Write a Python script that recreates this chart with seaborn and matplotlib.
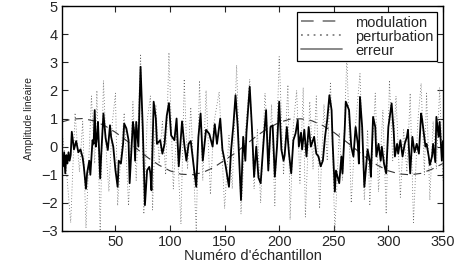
import numpy as np
import pandas as pd
import matplotlib
matplotlib.use('Agg')
import matplotlib.pyplot as plt
import seaborn as sns

# Valeurs
# --------------------------
# modulation (lente), un point tous les 10 echantillons
mod_x = [1, 10, 20, 30, 40, 50, 60, 70, 80, 90, 100, 110, 120, 130, 140, 150, 160, 170,
         180, 190, 200, 210, 220, 230, 240, 250, 260, 270, 280, 290, 300, 310, 320, 330, 340, 350]
mod_y = [0.88, 0.98, 1.0, 0.92, 0.75, 0.51, 0.22, -0.09, -0.4, -0.66, -0.86, -0.98, -1.0, -0.92,
         -0.74, -0.48, -0.22, 0.09, 0.4, 0.66, 0.86, 0.98, 0.99, 0.92, 0.75, 0.51, 0.22, -0.09,
         -0.4, -0.66, -0.86, -0.97, -1.0, -0.95, -0.8, -0.6]

# perturbation (pointilles)
pert_x = [1, 5, 9, 13, 17, 20, 23, 28, 31, 33, 36, 39, 42, 44, 47, 50, 52, 55, 58, 62, 66, 69,
          73, 76, 79, 82, 84, 87, 90, 93, 96, 99, 103, 106, 110, 113, 116, 119, 124, 127, 130,
          133, 137, 140, 145, 150, 154, 157, 161, 165, 169, 173, 177, 180, 183, 187, 191, 193,
          196, 200, 204, 208, 210, 213, 216, 219, 222, 224, 228, 231, 234, 237, 241, 244, 247,
          251, 255, 258, 262, 266, 270, 274, 278, 281, 283, 288, 291, 295, 298, 301, 304, 307,
          311, 314, 317, 320, 323, 327, 330, 333, 335, 338, 341, 344, 347, 350]
pert_y = [0.6, -0.8, -2.7, 1.2, -0.9, 0.9, -2.9, 1.8, -0.6, 2.0, -3.0, 2.35, -0.5, -1.6, 0.8,
          1.9, -2.1, -0.3, 1.2, -2.1, 1.6, -1.2, 3.3, -2.4, 0.9, 1.8, -2.25, 1.5, -0.6, 0.9,
          -1.0, 3.35, -1.5, 0.5, -2.75, 2.4, -0.8, 1.4, -3.0, 2.35, -1.2, 2.0, -1.7, 0.8, 1.95,
          -2.2, 0.4, -1.5, 2.9, -2.4, 0.5, 2.4, -1.5, 0.6, -2.0, 1.9, -0.6, 1.5, -2.1, 3.2,
          -1.0, 2.2, -2.6, 0.8, 2.0, -1.3, 2.1, -2.5, 1.6, -0.8, 1.8, -2.2, 1.5, -0.5, 2.3,
          -3.0, 0.5, -1.2, 3.2, -2.0, 0.8, 2.6, -1.9, 0.6, -2.1, 1.9, -1.6, 1.3, -2.4, 2.36,
          -0.5, 1.8, -1.8, 0.6, -0.9, 1.9, -2.7, 0.9, 2.25, -1.0, 1.9, -1.9, 0.9, -0.8, 2.1, -1.2]

# erreur (trait plein)
err_x = [1, 2, 3, 4, 5, 6, 7, 8, 9, 10, 12, 14, 16, 18, 20, 21, 23, 24, 26, 27, 29, 30, 31, 32,
         33, 34, 36, 37, 39, 41, 43, 45, 46, 48, 50, 52, 53, 55, 57, 58, 60, 62, 63, 66, 67, 68,
         69, 71, 73, 75, 77, 79, 81, 82, 83, 85, 87, 88, 91, 93, 95, 97, 99, 101, 104, 106,
         108, 111, 113, 115, 117, 119, 122, 124, 126, 128, 130, 133, 136, 139, 141, 143, 146,
         148, 151, 154, 156, 158, 160, 162, 165, 167, 169, 170, 173, 175, 177, 179, 181, 183,
         186, 188, 190, 192, 194, 196, 198, 200, 202, 204, 205, 207, 209, 211, 213, 215, 217,
         218, 220, 221, 223, 225, 227, 229, 232, 234, 236, 238, 240, 242, 244, 246, 248, 249,
         251, 252, 255, 257, 258, 260, 261, 264, 266, 268, 270, 272, 273, 274, 276, 278, 281,
         283, 284, 286, 288, 289, 291, 293, 294, 296, 298, 300, 303, 305, 306, 308, 309, 311,
         313, 315, 317, 318, 320, 322, 324, 326, 328, 330, 331, 334, 335, 337, 338, 340, 341,
         343, 344, 346, 347, 349, 350]
err_y = [-0.25, -0.7, -0.2, -0.95, -0.3, -0.6, -0.2, -0.5, -0.3, 0.53, -0.1, 0.2, -0.2, -0.1,
         -0.4, -0.7, -1.5, -0.95, -0.5, -1.0, 0.23, 0.1, 1.3, 0.0, 0.3, 0.88, -1.13, -0.25, 1.18,
         0.3, -0.12, 0.76, 0.35, 0.0, -0.84, -1.43, -0.5, -0.6, 0.1, 0.82, 0.65, 0.23, -1.3,
         0.88, 0.6, -0.5, 0.88, 0.0, 2.84, 0.7, -2.08, -0.84, -0.72, -0.95, -1.55, 1.6, 1.0, 0.1,
         0.23, -0.25, 0.1, 1.1, 1.55, 0.4, 0.23, 1.0, -0.7, 0.9, 0.1, -0.5, 0.1, 0.2, -0.8,
         -1.43, 0.35, 1.18, -0.5, 0.6, 0.45, 0.0, 0.8, 0.1, 1.0, -0.1, -0.7, -1.43, -0.1, 0.75,
         1.83, 0.7, -1.9, 0.35, -0.5, 0.5, 2.13, 0.7, -1.07, 0.0, -1.1, -1.3, 0.35, 1.3, -0.85,
         0.7, 0.75, -1.07, 0.0, 1.6, -0.1, -0.5, -0.3, 0.7, -0.25, -0.95, 0.23, 0.47, 0.95, 0.0,
         0.5, -0.1, 0.6, -0.35, 0.7, 0.0, 0.35, -0.25, -0.35, -0.7, -0.5, 0.35, 0.95, 1.83, 1.3,
         0.1, -1.6, -0.85, -1.3, -0.35, -0.95, 0.6, 1.6, 1.3, 0.0, -0.35, 0.7, 0.1, -0.6, 1.77,
         0.7, -1.43, -0.1, -0.5, -1.07, 1.06, 0.7, -0.35, 0.1, -0.5, 0.0, -0.6, -0.95, 0.7, 1.54,
         0.47, -0.35, 0.1, -0.25, 0.23, -0.35, 0.1, 0.35, 0.6, -0.95, 0.35, -0.2, 0.1, -0.25,
         1.18, 0.95, 0.0, 0.1, -0.35, -0.65, -0.35, 0.1, -0.55, 1.06, 0.35, 0.88, -0.5, 0.2]

x_ticks = [50, 100, 150, 200, 250, 300, 350]
y_ticks = [-3, -2, -1, 0, 1, 2, 3, 4, 5]

# Style
sns.set_style('ticks')
plt.rcParams['font.family'] = ['Liberation Sans', 'DejaVu Sans']
plt.rcParams['xtick.direction'] = 'in'
plt.rcParams['ytick.direction'] = 'in'

fig = plt.figure(figsize=(4.59, 2.64), dpi=100)
ax = fig.add_axes([0.135, 0.125, 0.83, 0.852])

# Tracés
sns.lineplot(x=mod_x, y=mod_y, ax=ax, color='0.2', lw=0.8,
             linestyle=(0, (7, 5)), label='modulation', sort=False, estimator=None)
sns.lineplot(x=pert_x, y=pert_y, ax=ax, color='0.4', lw=0.6,
             linestyle=(0, (1, 2.5)), label='perturbation', sort=False, estimator=None)
sns.lineplot(x=err_x, y=err_y, ax=ax, color='black', lw=1.3,
             linestyle='-', label='erreur', sort=False, estimator=None)

ax.set_xlim(1, 350)
ax.set_ylim(-3, 5)
ax.set_xticks(x_ticks)
ax.set_yticks(y_ticks)
ax.tick_params(top=True, right=True, length=4, width=0.8, labelsize=10.5, pad=3)
for s in ax.spines.values():
    s.set_linewidth(1.0)
    s.set_color('black')

ax.set_xlabel("Numéro d'échantillon", fontsize=10.5, labelpad=0)
ax.set_ylabel('Amplitude linéaire', fontsize=7.5, labelpad=5)

leg = ax.legend(loc='upper right', fontsize=10.5, frameon=True, fancybox=False,
                edgecolor='black', framealpha=1, handlelength=2.8, handletextpad=0.9,
                labelspacing=0.0, borderpad=0.25, borderaxespad=0.4)
leg.get_frame().set_linewidth(0.9)
for h in leg.get_lines():
    h.set_color('0.5')
    h.set_linewidth(1.3)

fig.savefig('out.png', dpi=100)
